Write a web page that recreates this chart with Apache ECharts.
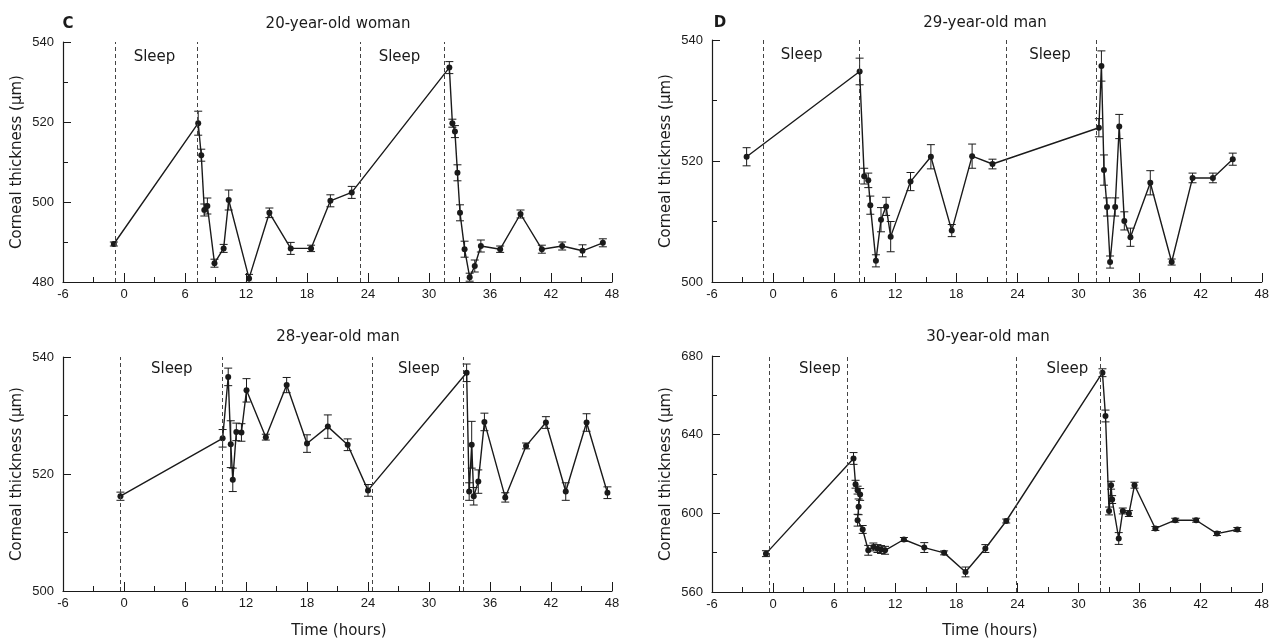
<!DOCTYPE html>
<html>
<head>
<meta charset="utf-8">
<title>Corneal thickness</title>
<script src="https://cdn.jsdelivr.net/npm/echarts@6/dist/echarts.min.js"></script>
<style>
  html, body { margin: 0; padding: 0; background: #fff; }
  #chart { width: 1272px; height: 639px; }
</style>
</head>
<body>
<div id="chart"></div>
<script>
// x ticks (hours)
const hourTicks = [-6, 0, 6, 12, 18, 24, 30, 36, 42, 48];

// C: 20-year-old woman
const hoursC = [-1, 7.3, 7.6, 7.9, 8.2, 8.9, 9.8, 10.3, 12.3, 14.3, 16.4, 18.4, 20.3, 22.4, 32.0, 32.3, 32.55, 32.8, 33.05, 33.5, 34.0, 34.5, 35.1, 37.0, 39.0, 41.1, 43.1, 45.1, 47.1];
const valuesC = [489.5, 519.7, 511.7, 498, 499, 484.7, 488.4, 500.5, 480.9, 497.3, 488.4, 488.4, 500.3, 502.4, 533.6, 519.7, 517.6, 507.3, 497.3, 488.2, 481.2, 484, 489, 488.2, 497, 488.2, 489, 487.8, 489.8];
const errorsC = [0.5, 3, 1.5, 1.5, 2, 1, 1, 2.5, 1, 1.2, 1.5, 0.8, 1.5, 1.5, 1.5, 1, 1.5, 2, 2, 2, 1, 1.5, 1.5, 0.8, 1, 1, 1, 1.5, 1];
const sleepC = [-0.9, 7.2, 23.2, 31.5];
const sleepLabelC = [[3, 536.2], [27.1, 536.2]];

// D: 29-year-old man
const hoursD = [-2.6, 8.5, 8.95, 9.35, 9.55, 10.1, 10.6, 11.1, 11.55, 13.5, 15.5, 17.55, 19.55, 21.55, 32.0, 32.25, 32.5, 32.8, 33.1, 33.6, 34.0, 34.5, 35.1, 37.05, 39.15, 41.2, 43.2, 45.15];
const valuesD = [520.7, 534.8, 517.5, 516.8, 512.7, 503.5, 510.3, 512.5, 507.5, 516.6, 520.7, 508.5, 520.8, 519.5, 525.5, 535.7, 518.5, 512.4, 503.3, 512.4, 525.7, 510.1, 507.4, 516.4, 503.3, 517.2, 517.2, 520.3];
const errorsD = [1.5, 2.2, 1.3, 1.2, 1.5, 1, 2, 1.5, 2.5, 1.5, 2, 1, 2, 0.8, 1.5, 2.5, 2.5, 1.5, 1, 1.5, 2, 1.5, 1.5, 2, 0.5, 0.8, 0.8, 1];
const sleepD = [-1, 8.5, 22.9, 31.75];
const sleepLabelD = [[2.8, 537.5], [27.2, 537.5]];

// 28-year-old man
const hoursE = [-0.35, 9.7, 10.25, 10.5, 10.7, 11.05, 11.55, 12.05, 13.95, 16.0, 18.0, 20.05, 22.0, 24.0, 33.7, 33.95, 34.2, 34.4, 34.85, 35.45, 37.5, 39.55, 41.5, 43.45, 45.5, 47.55];
const valuesE = [516.2, 526.1, 536.6, 525.1, 519, 527.2, 527.1, 534.3, 526.3, 535.2, 525.2, 528.1, 525, 517.2, 537.3, 517, 525, 516.2, 518.7, 528.9, 516.0, 524.8, 528.8, 517, 528.8, 516.8];
const errorsE = [0.7, 1.5, 1.5, 4, 2, 1.5, 1.5, 2, 0.5, 1.3, 1.5, 2, 1, 1, 1.5, 1.5, 4, 1.5, 2, 1.5, 0.8, 0.5, 1, 1.5, 1.5, 1];
const sleepE = [-0.35, 9.7, 24.45, 33.4];
const sleepLabelE = [[4.7, 537.9], [29.0, 537.9]];

// 30-year-old man
const hoursF = [-0.7, 7.9, 8.1, 8.3, 8.55, 8.4, 8.3, 8.8, 9.35, 9.85, 10.25, 10.6, 11.0, 12.85, 14.85, 16.8, 18.9, 20.85, 22.9, 32.35, 32.65, 33.0, 33.2, 33.3, 33.95, 34.35, 34.95, 35.5, 37.55, 39.5, 41.55, 43.6, 45.6];
const valuesF = [579.5, 627.9, 614.8, 611.8, 609.6, 603.3, 596.5, 591.8, 581.2, 582.9, 582.1, 581.6, 581.2, 586.7, 582.6, 579.9, 570.2, 582.1, 596.1, 671.5, 649.5, 601.2, 614.3, 607.0, 587.2, 601.2, 599.9, 614.3, 592.3, 596.5, 596.5, 589.7, 591.8];
const errorsF = [1.5, 3, 2, 2, 3, 4, 3, 2, 2.5, 2, 2, 2, 2, 1, 2.5, 1, 2.5, 2, 1, 2, 3, 2, 2, 2, 3, 1.5, 1.5, 1.5, 1, 1, 1, 1, 1];
const sleepF = [-0.35, 7.3, 23.85, 32.15];
const sleepLabelF = [[4.6, 673.4], [28.9, 673.4]];

const panels = [
  { hours: hoursC, values: valuesC, errors: errorsC, sleep: sleepC, sleepLabel: sleepLabelC, yMin: 480, yMax: 540, yStep: 20 },
  { hours: hoursD, values: valuesD, errors: errorsD, sleep: sleepD, sleepLabel: sleepLabelD, yMin: 500, yMax: 540, yStep: 20 },
  { hours: hoursE, values: valuesE, errors: errorsE, sleep: sleepE, sleepLabel: sleepLabelE, yMin: 500, yMax: 540, yStep: 20 },
  { hours: hoursF, values: valuesF, errors: errorsF, sleep: sleepF, sleepLabel: sleepLabelF, yMin: 560, yMax: 680, yStep: 40 }
];

const ink = "#1a1a1a";
const font = "DejaVu Sans";

var myChart = echarts.init(document.getElementById("chart"));

function errorBar(params, api) {
  const x = api.value(0);
  const top = api.coord([x, api.value(2)]);
  const bot = api.coord([x, api.value(1)]);
  const w = 4;
  const style = { stroke: ink, lineWidth: 1 };
  return {
    type: "group",
    children: [
      { type: "line", shape: { x1: top[0], y1: top[1], x2: bot[0], y2: bot[1] }, style: style },
      { type: "line", shape: { x1: top[0] - w, y1: top[1], x2: top[0] + w, y2: top[1] }, style: style },
      { type: "line", shape: { x1: bot[0] - w, y1: bot[1], x2: bot[0] + w, y2: bot[1] }, style: style }
    ]
  };
}

let xAxes = [], yAxes = [], series = [];
panels.forEach((p, i) => {
  xAxes.push({
    type: "value",
    gridIndex: i,
    min: hourTicks[0],
    max: hourTicks[hourTicks.length - 1],
    interval: 6,
    axisLine: { onZero: false, lineStyle: { color: ink, width: 1.2 } },
    axisTick: { inside: true, length: 9, lineStyle: { color: ink } },
    minorTick: { show: true, splitNumber: 2, length: 5, lineStyle: { color: ink } },
    splitLine: { show: false },
    axisLabel: { color: ink, fontSize: 13, fontFamily: "Liberation Sans", margin: 6 }
  });
  yAxes.push({
    type: "value",
    gridIndex: i,
    min: p.yMin,
    max: p.yMax,
    interval: p.yStep,
    name: "Corneal thickness (µm)",
    nameLocation: "middle",
    nameGap: 38,
    nameTextStyle: { color: ink, fontSize: 15, fontFamily: font },
    axisLine: { show: true, onZero: false, lineStyle: { color: ink, width: 1.2 } },
    axisTick: { show: true, inside: true, length: 8, lineStyle: { color: ink } },
    minorTick: { show: true, splitNumber: 2, length: 5, lineStyle: { color: ink } },
    splitLine: { show: false },
    axisLabel: { color: ink, fontSize: 13, fontFamily: "Liberation Sans", margin: 9 }
  });
  series.push({
    type: "custom",
    xAxisIndex: i,
    yAxisIndex: i,
    renderItem: errorBar,
    encode: { x: 0, y: [1, 2] },
    data: p.hours.map((h, k) => [h, p.values[k] - p.errors[k], p.values[k] + p.errors[k]]),
    z: 3
  });
  series.push({
    type: "line",
    xAxisIndex: i,
    yAxisIndex: i,
    data: p.hours.map((h, k) => [h, p.values[k]]),
    symbol: "circle",
    symbolSize: 6,
    itemStyle: { color: ink },
    lineStyle: { color: ink, width: 1.4 },
    z: 4,
    markLine: {
      silent: true,
      symbol: ["none", "none"],
      label: { show: false },
      lineStyle: { color: "#444", width: 1, type: [4, 3] },
      data: p.sleep.map(x => ({ xAxis: x }))
    },
    markPoint: {
      silent: true,
      symbol: "rect",
      symbolSize: 1,
      itemStyle: { color: "rgba(0,0,0,0)" },
      label: { show: true, position: "inside", formatter: "Sleep", color: ink, fontSize: 15, fontFamily: font },
      data: p.sleepLabel.map(c => ({ coord: c }))
    }
  });
});

const textStyle = (text, x, y, weight) => ({
  type: "text",
  x: x,
  y: y,
  style: { text: text, fill: ink, font: (weight || "normal") + " 15px " + font, textAlign: "center", textVerticalAlign: "middle" }
});

let option = {
  animation: false,
  backgroundColor: "#fff",
  grid: [
    { left: 63, top: 42, width: 549, height: 240 },
    { left: 712, top: 40, width: 551, height: 242 },
    { left: 63, top: 357, width: 549, height: 234 },
    { left: 712, top: 356, width: 551, height: 236 }
  ],
  xAxis: xAxes,
  yAxis: yAxes,
  graphic: [
    textStyle("C", 68, 24, "bold"),
    textStyle("20-year-old woman", 338, 24),
    textStyle("D", 720, 23, "bold"),
    textStyle("29-year-old man", 985, 23),
    textStyle("28-year-old man", 338, 337),
    textStyle("30-year-old man", 988, 337),
    textStyle("Time (hours)", 339, 631),
    textStyle("Time (hours)", 990, 631)
  ],
  series: series
};
myChart.setOption(option);
</script>
</body>
</html>
